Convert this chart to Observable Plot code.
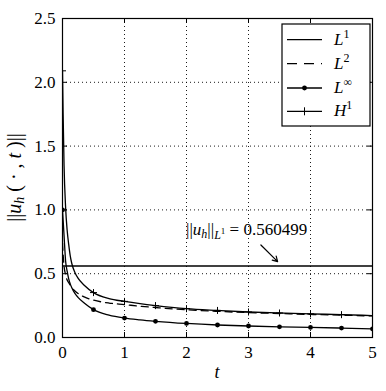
<!DOCTYPE html>
<html><head><meta charset="utf-8">
<script src="https://cdn.jsdelivr.net/npm/d3@7"></script>
<script src="https://cdn.jsdelivr.net/npm/@observablehq/plot@0.6"></script>
<style>body{margin:0;background:#fff}</style>
</head><body><div id="chart"></div>
<script>
// ---- data ----
const tValues = [0, 0.01, 0.025, 0.05, 0.075, 0.1, 0.125, 0.15, 0.2, 0.25, 0.35, 0.5, 0.75, 1, 1.25, 1.5, 2, 2.5, 3, 3.5, 4, 4.5, 5];
const h1Norm  = [2.09, 1.75, 1.35, 1.02, 0.84, 0.73, 0.64, 0.58, 0.51, 0.465, 0.41, 0.352, 0.305, 0.283, 0.265, 0.25, 0.226, 0.212, 0.2, 0.192, 0.185, 0.179, 0.172];
const l2Norm  = [0.74, 0.65, 0.56, 0.49, 0.45, 0.43, 0.41, 0.39, 0.365, 0.345, 0.318, 0.293, 0.27, 0.258, 0.245, 0.235, 0.217, 0.205, 0.195, 0.188, 0.181, 0.175, 0.169];
const linfNorm = [1.0, 0.92, 0.8, 0.6, 0.52, 0.46, 0.42, 0.39, 0.345, 0.315, 0.27, 0.218, 0.175, 0.152, 0.138, 0.127, 0.11, 0.098, 0.09, 0.084, 0.079, 0.074, 0.068];
const l1Norm = 0.560499;
const markerStep = 0.5;
const xTicks = [0, 1, 2, 3, 4, 5];
const yTicks = [0, 0.5, 1.0, 1.5, 2.0, 2.5];
const legendNames = ["L1", "L2", "Linf", "H1"];
const annotText = [2.0, 0.8];        // text anchor (t, value)
const annotArrowFrom = [3.2, 0.725]; // arrow tail
const annotArrowTo = [3.47, 0.595];  // arrow head

// ---- build tables ----
const rows = (vals) => tValues.map((t, i) => ({t, v: vals[i]}));
const isMarker = d => Math.abs(d.t / markerStep - Math.round(d.t / markerStep)) < 1e-9;
const h1Rows = rows(h1Norm), l2Rows = rows(l2Norm), linfRows = rows(linfNorm);

const W = 386, H = 391, mL = 62, mR = 14, mT = 18, mB = 54;
const innerW = W - mL - mR, innerH = H - mT - mB;
const FONT = "Liberation Serif";
const dotted = {stroke: "black", strokeOpacity: 1, strokeWidth: 0.9, strokeDasharray: "1,3"};

const plot = Plot.plot({
  width: W, height: H,
  marginLeft: mL, marginRight: mR, marginTop: mT, marginBottom: mB,
  style: {fontFamily: FONT, fontSize: "16px", background: "white", color: "black"},
  x: {domain: [0, 5], label: null},
  y: {domain: [0, 2.5], label: null},
  marks: [
    Plot.gridX(xTicks, dotted),
    Plot.gridY(yTicks, dotted),
    Plot.ruleY([l1Norm], {stroke: "black", strokeWidth: 1.3}),
    Plot.line(h1Rows, {x: "t", y: "v", stroke: "black", strokeWidth: 1.3, curve: "monotone-x", clip: true}),
    Plot.line(l2Rows, {x: "t", y: "v", stroke: "black", strokeWidth: 1.3, strokeDasharray: "7,5", curve: "monotone-x", clip: true}),
    Plot.line(linfRows, {x: "t", y: "v", stroke: "black", strokeWidth: 1.3, curve: "monotone-x", clip: true}),
    Plot.dot(linfRows.filter(isMarker), {x: "t", y: "v", r: 2.4, fill: "black", stroke: null, clip: true}),
    Plot.dot(h1Rows.filter(isMarker), {x: "t", y: "v", r: 2.4, symbol: "plus", stroke: "black", strokeWidth: 1, clip: true}),
    Plot.arrow([0], {x1: () => annotArrowFrom[0], y1: () => annotArrowFrom[1], x2: () => annotArrowTo[0], y2: () => annotArrowTo[1],
      stroke: "black", strokeWidth: 1.2, headLength: 7}),
    Plot.frame({stroke: "black", strokeWidth: 1.2}),
    Plot.tickX(xTicks, {x: d => d, insetTop: innerH - 5, stroke: "black"}),
    Plot.tickX(xTicks, {x: d => d, insetBottom: innerH - 5, stroke: "black"}),
    Plot.tickY(yTicks, {y: d => d, insetRight: innerW - 5, stroke: "black"}),
    Plot.tickY(yTicks, {y: d => d, insetLeft: innerW - 5, stroke: "black"}),
    Plot.axisX(xTicks, {tickSize: 0, tickPadding: 8, tickFormat: d3.format("d"), fontSize: 17, fontVariant: "normal"}),
    Plot.axisY(yTicks, {tickSize: 0, tickPadding: 7, tickFormat: d3.format(".1f"), fontSize: 17, fontVariant: "normal"})
  ]
});
document.getElementById("chart").appendChild(plot);

const sx = plot.scale("x"), sy = plot.scale("y");
const svg = d3.select(plot);

function addMath(parent, x, y, parts, size, extra) {
  const text = parent.append("text").attr("x", x).attr("y", y)
    .attr("font-family", FONT).attr("font-size", size).attr("fill", "black")
    .attr("text-anchor", "start");
  if (extra) extra(text);
  let cur = 0;
  for (const p of parts) {
    const off = p.off || 0;
    const ts = text.append("tspan").text(p.t).attr("dy", off - cur);
    cur = off;
    if (p.i) ts.attr("font-style", "italic");
    if (p.s) ts.attr("font-size", p.s);
  }
  return text;
}

// annotation text
addMath(svg, sx.apply(annotText[0]), sy.apply(annotText[1]), [
  {t: "||"}, {t: "u", i: true}, {t: "h", i: true, off: 3, s: 12}, {t: "||"},
  {t: "L", i: true, off: 4, s: 12}, {t: "1", off: -1, s: 9}, {t: " = 0.560499"}
], 17);

// axis labels
addMath(svg, 0, 0, [
  {t: "||"}, {t: "u", i: true}, {t: "h", i: true, off: 3, s: 14}, {t: " ( · , "}, {t: "t", i: true}, {t: " )||"}
], 20, t => t.attr("text-anchor", "middle").attr("transform", `translate(21,${mT + innerH / 2}) rotate(-90)`));
addMath(svg, mL + innerW / 2, 378, [{t: "t", i: true}], 18, t => t.attr("text-anchor", "middle"));

// legend
const lg = svg.append("g");
const bx = 282, by = 24, bw = 88, bh = 102;
lg.append("rect").attr("x", bx).attr("y", by).attr("width", bw).attr("height", bh)
  .attr("fill", "white").attr("stroke", "black").attr("stroke-width", 1.2);
const ys = [39.7, 63.7, 88, 111.3];
const labels = [
  [{t: "L", i: true}, {t: "1", off: -7, s: 12}],
  [{t: "L", i: true}, {t: "2", off: -7, s: 12}],
  [{t: "L", i: true}, {t: "∞", off: -7, s: 12}],
  [{t: "H", i: true}, {t: "1", off: -7, s: 12}]
];
legendNames.forEach((name, k) => {
  const y = ys[k];
  const ln = lg.append("line").attr("x1", 287).attr("x2", 322).attr("y1", y).attr("y2", y)
    .attr("stroke", "black").attr("stroke-width", 1.3);
  if (name === "L2") ln.attr("stroke-dasharray", "10,7");
  if (name === "Linf") lg.append("circle").attr("cx", 304.5).attr("cy", y).attr("r", 2.4).attr("fill", "black");
  if (name === "H1") lg.append("line").attr("x1", 304.5).attr("x2", 304.5).attr("y1", y - 4).attr("y2", y + 4).attr("stroke", "black");
  addMath(lg, 334, y + 5, labels[k], 17);
});
svg.selectAll("text").attr("font-family", FONT);
</script>
</body></html>
